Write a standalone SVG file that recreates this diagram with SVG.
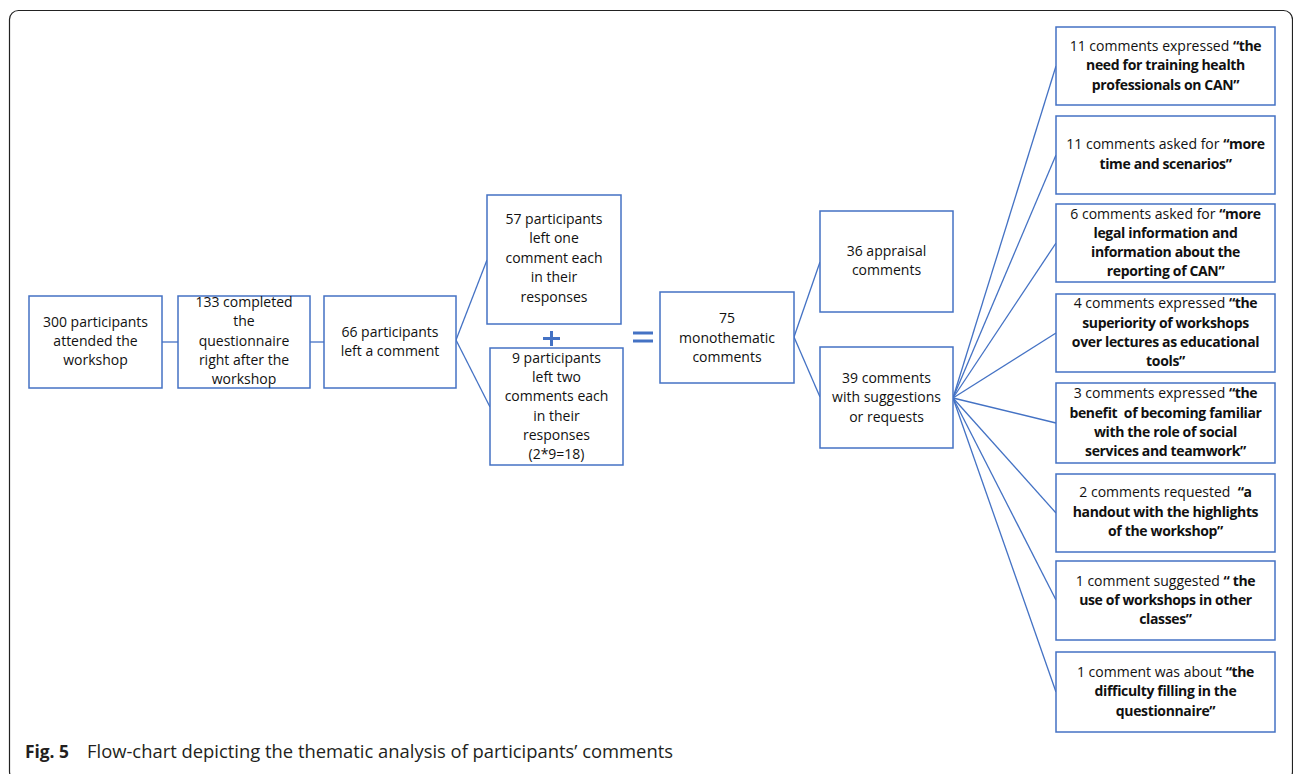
<svg xmlns="http://www.w3.org/2000/svg" width="1293" height="774" viewBox="0 0 1293 774">
<style>
.box{fill:#fff;stroke:#4472C4;stroke-width:1.5}
.ln{stroke:#4472C4;stroke-width:1.3;fill:none}
.sym{stroke:#4472C4;stroke-width:3;fill:none}
text{font-family:"Open Sans","Noto Sans",sans-serif;font-size:14px;fill:#111;text-anchor:middle}
.b{font-weight:bold;letter-spacing:-0.35px}
.cap{font-family:"Open Sans","Noto Sans",sans-serif;font-size:18px;fill:#231f20;text-anchor:start}
</style>
<rect x="0" y="0" width="1293" height="774" fill="#fff"/>
<rect x="9.5" y="10.5" width="1283" height="770" rx="9" fill="none" stroke="#222" stroke-width="1.2"/>
<g id="connectors">
<line class="ln" x1="162" y1="342" x2="178" y2="342"/>
<line class="ln" x1="178" y1="358" x2="193" y2="358"/>
<line class="ln" x1="310" y1="342" x2="324" y2="342"/>
<line class="ln" x1="456" y1="340" x2="487" y2="260"/>
<line class="ln" x1="456" y1="340" x2="490" y2="407"/>
<line class="ln" x1="794" y1="337" x2="820" y2="262"/>
<line class="ln" x1="794" y1="337" x2="820" y2="397"/>
<line class="ln" x1="953" y1="398" x2="1056" y2="66"/>
<line class="ln" x1="953" y1="398" x2="1056" y2="155"/>
<line class="ln" x1="953" y1="398" x2="1056" y2="243"/>
<line class="ln" x1="953" y1="398" x2="1056" y2="333"/>
<line class="ln" x1="953" y1="398" x2="1056" y2="423"/>
<line class="ln" x1="953" y1="398" x2="1056" y2="513"/>
<line class="ln" x1="953" y1="398" x2="1056" y2="600"/>
<line class="ln" x1="953" y1="398" x2="1056" y2="692"/>
</g>
<g id="plus"><line class="sym" x1="543" y1="338.5" x2="560" y2="338.5"/><line class="sym" x1="551.5" y1="331" x2="551.5" y2="346"/></g>
<g id="equals"><line class="sym" x1="633" y1="333" x2="653" y2="333"/><line class="sym" x1="633" y1="341" x2="653" y2="341"/></g>
<g id="n300"><rect class="box" x="29" y="296" width="133" height="92"/>
<text x="95.5" y="326.5">300 participants</text><text x="95.5" y="345.8">attended the</text><text x="95.5" y="365">workshop</text></g>
<g id="n133"><rect class="box" x="178" y="296" width="132" height="92"/>
<text x="244" y="307">133 completed</text><text x="244" y="326.3">the</text><text x="244" y="345.5">questionnaire</text><text x="244" y="364.8">right after the</text><text x="244" y="384">workshop</text></g>
<g id="n66"><rect class="box" x="324" y="296" width="132" height="92"/>
<text x="390" y="337">66 participants</text><text x="390" y="356.3">left a comment</text></g>
<g id="n57"><rect class="box" x="487" y="195" width="134" height="129"/>
<text x="554" y="224">57 participants</text><text x="554" y="243.4">left one</text><text x="554" y="262.8">comment each</text><text x="554" y="282.2">in their</text><text x="554" y="301.6">responses</text></g>
<g id="n9"><rect class="box" x="490" y="348" width="133" height="117"/>
<text x="556.5" y="362.7">9 participants</text><text x="556.5" y="382">left two</text><text x="556.5" y="401.3">comments each</text><text x="556.5" y="420.6">in their</text><text x="556.5" y="439.9">responses</text><text x="556.5" y="459.2">(2*9=18)</text></g>
<g id="n75"><rect class="box" x="660" y="292" width="134" height="91"/>
<text x="727" y="323">75</text><text x="727" y="342.5">monothematic</text><text x="727" y="362">comments</text></g>
<g id="n36"><rect class="box" x="820" y="211" width="133" height="101"/>
<text x="886.5" y="255.7">36 appraisal</text><text x="886.5" y="275">comments</text></g>
<g id="n39"><rect class="box" x="820" y="347" width="133" height="101"/>
<text x="886.5" y="382.7">39 comments</text><text x="886.5" y="402">with suggestions</text><text x="886.5" y="421.5">or requests</text></g>
<g id="rA"><rect class="box" x="1056" y="27" width="219" height="78"/>
<text x="1165.5" y="50.5">11 comments expressed <tspan class="b">“the</tspan></text><text x="1165.5" y="70" class="b">need for training health</text><text x="1165.5" y="89.5" class="b">professionals on CAN”</text></g>
<g id="rB"><rect class="box" x="1056" y="116" width="219" height="78"/>
<text x="1165.5" y="149.3">11 comments asked for <tspan class="b">“more</tspan></text><text x="1165.5" y="168.5" class="b">time and scenarios”</text></g>
<g id="rC"><rect class="box" x="1056" y="204" width="219" height="78"/>
<text x="1165.5" y="218.5">6 comments asked for <tspan class="b">“more</tspan></text><text x="1165.5" y="237.5" class="b">legal information and</text><text x="1165.5" y="256.5" class="b">information about the</text><text x="1165.5" y="275.5" class="b">reporting of CAN”</text></g>
<g id="rD"><rect class="box" x="1056" y="294" width="219" height="78"/>
<text x="1165.5" y="308">4 comments expressed <tspan class="b">“the</tspan></text><text x="1165.5" y="327.5" class="b">superiority of workshops</text><text x="1165.5" y="346.8" class="b">over lectures as educational</text><text x="1165.5" y="366" class="b">tools”</text></g>
<g id="rE"><rect class="box" x="1056" y="383" width="219" height="80"/>
<text x="1165.5" y="398.3">3 comments expressed <tspan class="b">“the</tspan></text><text x="1165.5" y="417.7" class="b" xml:space="preserve">benefit  of becoming familiar</text><text x="1165.5" y="437" class="b">with the role of social</text><text x="1165.5" y="456.3" class="b">services and teamwork”</text></g>
<g id="rF"><rect class="box" x="1056" y="474" width="219" height="78"/>
<text x="1165.5" y="497" xml:space="preserve">2 comments requested  <tspan class="b">“a</tspan></text><text x="1165.5" y="516.5" class="b">handout with the highlights</text><text x="1165.5" y="536" class="b">of the workshop”</text></g>
<g id="rG"><rect class="box" x="1056" y="561" width="219" height="79"/>
<text x="1165.5" y="585.5">1 comment suggested <tspan class="b">“ the</tspan></text><text x="1165.5" y="605" class="b">use of workshops in other</text><text x="1165.5" y="624" class="b">classes”</text></g>
<g id="rH"><rect class="box" x="1056" y="652" width="219" height="80"/>
<text x="1165.5" y="677">1 comment was about <tspan class="b">“the</tspan></text><text x="1165.5" y="696.3" class="b">difficulty filling in the</text><text x="1165.5" y="715.6" class="b">questionnaire”</text></g>
<g id="caption">
<text class="cap" x="25" y="758" font-weight="bold" textLength="44" lengthAdjust="spacingAndGlyphs">Fig. 5</text>
<text class="cap" x="87" y="758" textLength="586" lengthAdjust="spacingAndGlyphs">Flow-chart depicting the thematic analysis of participants’ comments</text>
</g>
</svg>
